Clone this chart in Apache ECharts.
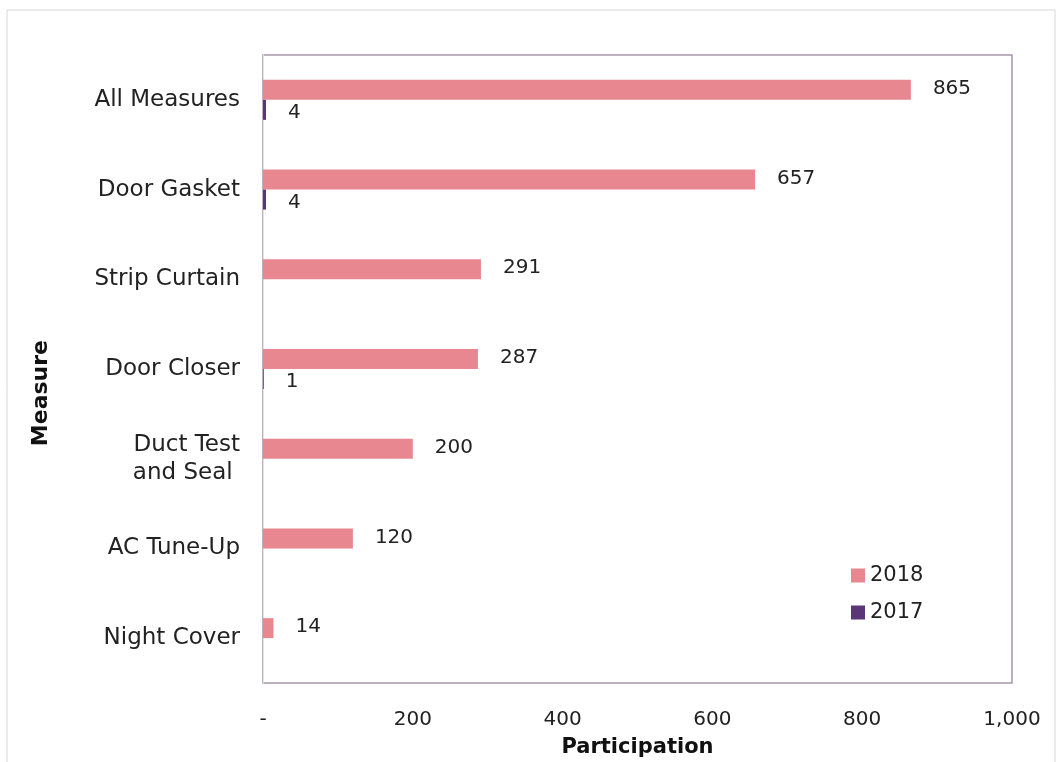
<!DOCTYPE html>
<html>
<head>
<meta charset="utf-8">
<style>
  html, body { margin: 0; padding: 0; background: #ffffff; }
  #chart { width: 1059px; height: 762px; }
</style>
<script src="https://cdn.jsdelivr.net/npm/echarts@6/dist/echarts.min.js"></script>
</head>
<body>
<div id="chart"></div>
<script>
// Measures, listed top to bottom
const measures = ['All Measures', 'Door Gasket', 'Strip Curtain', 'Door Closer', 'Duct Test\nand Seal ', 'AC Tune-Up', 'Night Cover'];
// Participation counts per year (null = no participation)
const values2018 = [865, 657, 291, 287, 200, 120, 14];
const values2017 = [4, 4, null, 1, null, null, null];
const xTicks = [0, 200, 400, 600, 800, 1000];

const FONT = '"DejaVu Sans", Verdana, sans-serif';
const COLOR_2018 = '#e8878f';
const COLOR_2017 = '#5a3577';

const chart = echarts.init(document.getElementById('chart'), null, { renderer: 'canvas' });

const valueLabel = {
  show: true,
  position: 'right',
  distance: 22,
  color: '#222',
  fontFamily: FONT,
  fontSize: 20,
  formatter: p => (p.value == null ? '' : String(p.value))
};

chart.setOption({
  animation: false,
  backgroundColor: '#ffffff',
  textStyle: { fontFamily: FONT },
  graphic: [
    {
      type: 'rect',
      shape: { x: 7, y: 10, width: 1048, height: 760 },
      style: { fill: 'none', stroke: '#d6d6d6', lineWidth: 1 },
      silent: true
    },
    {
      type: 'text',
      left: 30,
      top: 340,
      rotation: Math.PI / 2,
      style: { text: 'Measure', font: 'bold 22px ' + FONT, fill: '#111' },
      silent: true
    }
  ],
  legend: {
    orient: 'vertical',
    left: 846,
    top: 560,
    itemWidth: 14,
    itemHeight: 14,
    itemGap: 16,
    icon: 'rect',
    data: ['2018', '2017'],
    textStyle: { fontFamily: FONT, fontSize: 21, color: '#222' }
  },
  grid: {
    left: 263,
    top: 55,
    width: 749,
    height: 628,
    show: true,
    borderColor: '#a697a9',
    borderWidth: 1.5,
    containLabel: false,
    outerBoundsMode: 'none'
  },
  xAxis: {
    type: 'value',
    min: 0,
    max: 1000,
    interval: 200,
    name: 'Participation',
    nameLocation: 'middle',
    nameGap: 54,
    nameTextStyle: { fontFamily: FONT, fontSize: 21, fontWeight: 'bold', color: '#111' },
    axisLine: { show: false },
    axisTick: { show: false },
    splitLine: { show: false },
    axisLabel: {
      margin: 27,
      fontFamily: FONT,
      fontSize: 20,
      color: '#222',
      formatter: v => (xTicks.includes(v) ? (v === 0 ? '-' : v.toLocaleString('en-US')) : '')
    }
  },
  yAxis: {
    type: 'category',
    data: measures,
    inverse: true,
    axisLine: { show: true, lineStyle: { color: '#e4e4e4', width: 1 } },
    axisTick: { show: false },
    splitLine: { show: false },
    axisLabel: {
      margin: 23,
      fontFamily: FONT,
      fontSize: 23,
      lineHeight: 28,
      color: '#222'
    }
  },
  series: [
    {
      name: '2018',
      type: 'bar',
      data: values2018,
      barWidth: 20,
      barGap: '0%',
      itemStyle: { color: COLOR_2018 },
      label: Object.assign({}, valueLabel, { offset: [0, -1] })
    },
    {
      name: '2017',
      type: 'bar',
      data: values2017,
      barWidth: 20,
      barGap: '0%',
      itemStyle: { color: COLOR_2017 },
      label: Object.assign({}, valueLabel, { offset: [0, 3] })
    }
  ]
});
</script>
</body>
</html>
